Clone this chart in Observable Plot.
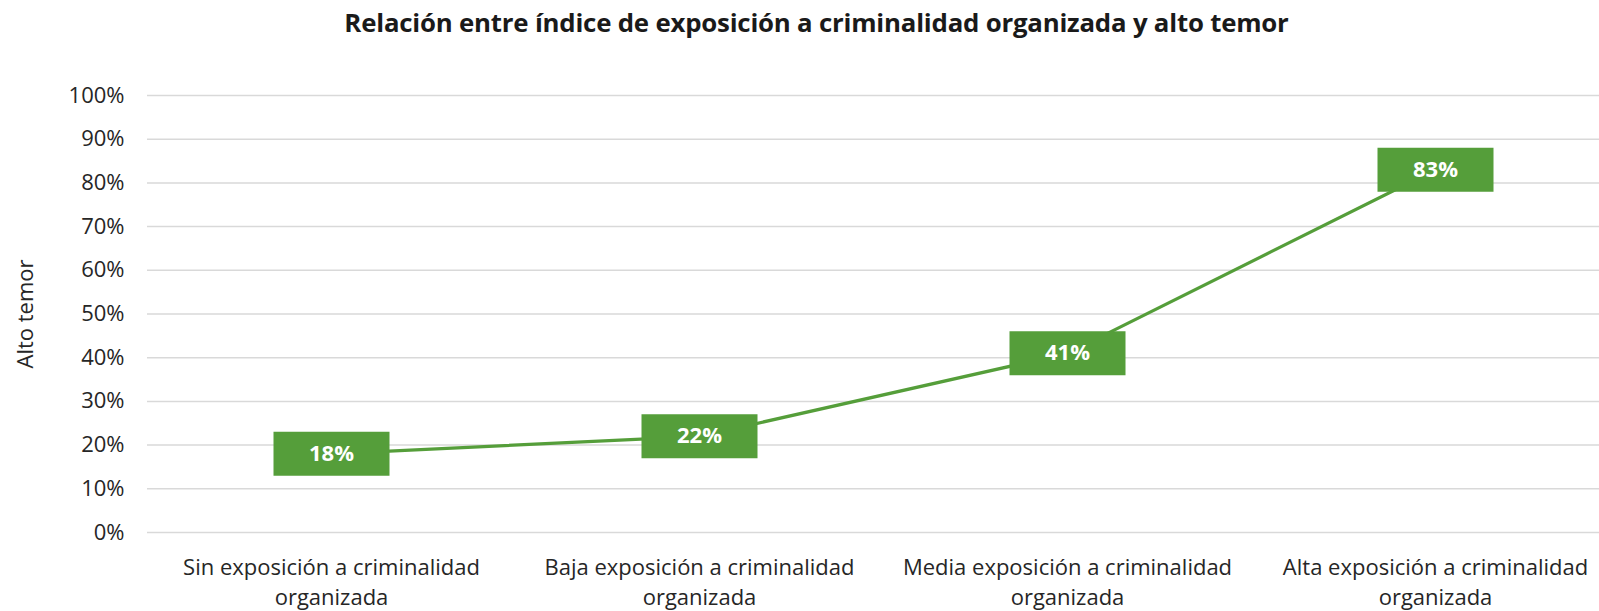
<!DOCTYPE html>
<html>
<head>
<meta charset="utf-8">
<script src="https://cdn.jsdelivr.net/npm/d3@7"></script>
<script src="https://cdn.jsdelivr.net/npm/@observablehq/plot@0.6"></script>
<style>
  html, body { margin: 0; padding: 0; background: #fff; }
  body { width: 1599px; height: 611px; overflow: hidden; font-family: "Open Sans", "Noto Sans", sans-serif; }
  #title { height: 45px; line-height: 45px; text-align: center; font-weight: 700; font-size: 25.8px; color: #1a1a1a; padding-left: 34px; box-sizing: border-box; white-space: nowrap; letter-spacing: -0.2px; }
  #chart svg { display: block; }
</style>
</head>
<body>
<div id="title">Relación entre índice de exposición a criminalidad organizada y alto temor</div>
<div id="chart"></div>
<script>
const categories = [
  "Sin exposición a criminalidad organizada",
  "Baja exposición a criminalidad organizada",
  "Media exposición a criminalidad organizada",
  "Alta exposición a criminalidad organizada"
];
const altoTemor = [0.18, 0.22, 0.41, 0.83];
const yTicks = [0, 0.1, 0.2, 0.3, 0.4, 0.5, 0.6, 0.7, 0.8, 0.9, 1.0];
const yLabel = "Alto temor";

const data = categories.map((c, i) => ({category: c, value: altoTemor[i]}));
const green = "#559E3A";
const pct = d3.format(".0%");
const boxSymbol = { draw(context) { context.rect(-58, -22, 116, 44); } };

const chart = Plot.plot({
  width: 1599,
  height: 566,
  marginTop: 50,
  marginBottom: 79,
  marginLeft: 147,
  marginRight: -20,
  style: { fontFamily: "'Open Sans', 'Noto Sans', sans-serif", background: "#fff" },
  x: { type: "point", domain: categories, padding: 0.5 },
  y: { domain: [0, 1] },
  marks: [
    Plot.ruleY(yTicks, { stroke: "#d9d9d9", strokeWidth: 1.5 }),
    Plot.axisY({ ticks: yTicks, tickSize: 0, tickPadding: 23, tickFormat: pct, fontSize: 22, color: "#262626", label: null }),
    Plot.axisX({ tickSize: 0, tickPadding: 21, fontSize: 22, lineHeight: 30/22, color: "#262626", label: null,
      tickFormat: d => d.replace(" organizada", "\norganizada") }),
    Plot.text([yLabel], { frameAnchor: "left", textAnchor: "middle", dx: -122, rotate: -90, fontSize: 22, fill: "#262626" }),
    Plot.line(data, { x: "category", y: "value", stroke: green, strokeWidth: 3.2 }),
    Plot.dot(data, { x: "category", y: "value", symbol: boxSymbol, fill: green, stroke: "none", r: 10 }),
    Plot.text(data, { x: "category", y: "value", text: d => pct(d.value), fill: "white", fontSize: 22, fontWeight: "bold" })
  ]
});
document.getElementById("chart").appendChild(chart);
</script>
</body>
</html>
